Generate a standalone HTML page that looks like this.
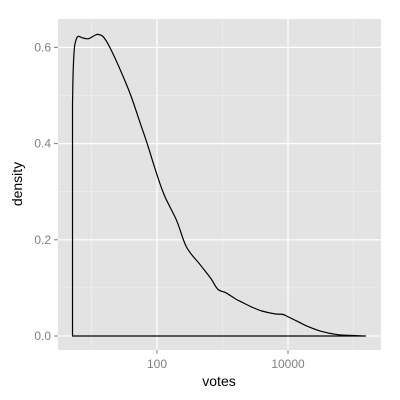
<!DOCTYPE html>
<html><head><meta charset="utf-8"><style>body{margin:0;background:#fff}svg{display:block}</style></head>
<body>
<svg width="400" height="400" xmlns="http://www.w3.org/2000/svg">
<rect x="58" y="19" width="323" height="331" fill="#e3e3e3"/>
<g id="grid"></g><g id="axes"></g>
<path id="curve" fill="none" stroke="#000" stroke-width="1.2"/>
<text x="219" y="386" text-anchor="middle" font-family="Liberation Sans, sans-serif" font-size="14">votes</text>
<text transform="translate(22,184) rotate(-90)" text-anchor="middle" font-family="Liberation Sans, sans-serif" font-size="14">density</text>
</svg>
<script>
const logVotes=[0.71,0.72,0.74,0.77,0.80,0.86,0.95,1.05,1.10,1.18,1.28,1.45,1.60,1.75,1.85,2.0,2.12,2.30,2.45,2.66,2.82,2.93,3.05,3.20,3.30,3.45,3.60,3.80,3.92,4.00,4.15,4.30,4.50,4.75,5.00,5.19];
const density=[0.48,0.55,0.60,0.618,0.623,0.62,0.618,0.625,0.627,0.622,0.60,0.55,0.50,0.44,0.40,0.335,0.29,0.24,0.185,0.148,0.12,0.097,0.09,0.077,0.07,0.06,0.052,0.046,0.045,0.04,0.03,0.02,0.01,0.003,0.001,0.0];
const yTicks=[0,0.2,0.4,0.6];
const yTickLabels=["0.0","0.2","0.4","0.6"];
const xTicks=[2,4];
const xTickLabels=["100","10000"];
const xMinor=[1,3,5];
const yMinor=[0.1,0.3,0.5];
const X=v=>157+(v-2)*65.5, Y=v=>336-v*481;
const ns="http://www.w3.org/2000/svg";
const g=document.getElementById('grid'), a=document.getElementById('axes');
function mk(p,t,at){const e=document.createElementNS(ns,t);for(const k in at)e.setAttribute(k,at[k]);p.appendChild(e);return e;}
xMinor.forEach(v=>{const e=mk(g,'line',{x1:X(v),x2:X(v),y1:19,y2:350,stroke:'#f2f2f2','stroke-width':0.6});

});
yMinor.forEach(v=>{const e=mk(g,'line',{x1:58,x2:381,y1:Y(v),y2:Y(v),stroke:'#f2f2f2','stroke-width':0.6});

});
xTicks.forEach((v,i)=>{const e=mk(g,'line',{x1:X(v),x2:X(v),y1:19,y2:350,stroke:'#fff','stroke-width':1.2});


mk(a,'line',{x1:X(v),x2:X(v),y1:350,y2:354,stroke:'#7f7f7f'});
const t=mk(a,'text',{x:X(v),y:368,'text-anchor':'middle','font-family':'Liberation Sans, sans-serif','font-size':12,fill:'#7f7f7f'});t.textContent=xTickLabels[i];

});
yTicks.forEach((v,i)=>{const e=mk(g,'line',{x1:58,x2:381,y1:Y(v),y2:Y(v),stroke:'#fff','stroke-width':1.2});


mk(a,'line',{x1:54,x2:58,y1:Y(v),y2:Y(v),stroke:'#7f7f7f'});
const t=mk(a,'text',{x:51,y:Y(v)+4,'text-anchor':'end','font-family':'Liberation Sans, sans-serif','font-size':12,fill:'#7f7f7f'});t.textContent=yTickLabels[i];

});
const P=logVotes.map((v,i)=>[X(v),Y(density[i])]);
let d='M'+P[0][0]+','+Y(0)+' L'+P[0][0]+','+P[0][1];
for(let i=0;i<P.length-1;i++){const p0=P[Math.max(0,i-1)],p1=P[i],p2=P[i+1],p3=P[Math.min(P.length-1,i+2)];
const c1=[p1[0]+(p2[0]-p0[0])/6,p1[1]+(p2[1]-p0[1])/6],c2=[p2[0]-(p3[0]-p1[0])/6,p2[1]-(p3[1]-p1[1])/6];
d+=' C'+c1+' '+c2+' '+p2;}
d+=' L'+P[0][0]+','+Y(0)+' Z';
document.getElementById('curve').setAttribute('d',d);
</script>
</body></html>
